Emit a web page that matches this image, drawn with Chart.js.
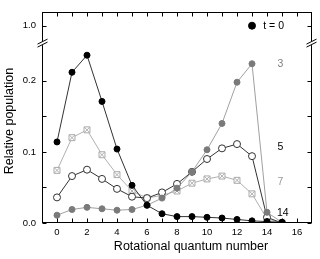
<!DOCTYPE html>
<html>
<head>
<meta charset="utf-8">
<script src="https://cdn.jsdelivr.net/npm/chart.js@4"></script>
<style>
html, body { margin: 0; padding: 0; background: #fff; }
#wrap { width: 320px; height: 259px; }
</style>
</head>
<body>
<div id="wrap"><canvas id="popChart" width="320" height="259"></canvas></div>
<script>
// data
const quantumNumbers = [0, 1, 2, 3, 4, 5, 6, 7, 8, 9, 10, 11, 12, 13, 14, 15];
const popT0 = [0.114, 0.212, 0.236, 0.171, 0.104, 0.053, 0.025, 0.013, 0.009, 0.009, 0.008, 0.007, 0.005, 0.003, 0.002, 0.001];
const popT3 = [0.011, 0.019, 0.022, 0.020, 0.018, 0.019, 0.025, 0.035, 0.049, 0.072, 0.103, 0.140, 0.198, 0.224, 0.015, 0.001];
const popT5 = [0.036, 0.066, 0.075, 0.062, 0.048, 0.037, 0.035, 0.043, 0.055, 0.072, 0.090, 0.105, 0.111, 0.094, 0.008, 0.000];
const popT7 = [0.074, 0.120, 0.131, 0.096, 0.068, 0.045, 0.035, 0.039, 0.045, 0.056, 0.062, 0.066, 0.060, 0.041, 0.006, 0.000];

const xTickLabels = [0, 2, 4, 6, 8, 10, 12, 14, 16];
const yTickValues = [0.0, 0.1, 0.2, 1.0];
const yMinorValues = [0.05, 0.15];

// text labels next to the curves
const seriesLabels = ['t = 0', '3', '5', '7', '14'];
const labelJ = [13.75, 14.9, 14.9, 14.9, 15.05];
const labelValues = [1.0, 0.223, 0.107, 0.058, 0.0136];
const labelColors = ['#000', '#808080', '#000', '#999', '#000'];
const legendPoint = { j: 13, value: 1.0 };

// broken axis: 1.0 is drawn just above the break
const BREAK_VALUE = 0.253;
const ONE_AT = 0.2775;
function toAxis(v) {
    return v > 0.5 ? ONE_AT + (v - 1.0) : v;
}

function pts(arr) {
    return arr.map((v, i) => ({ x: quantumNumbers[i], y: toAxis(v) }));
}

const font = 'Arial, "Liberation Sans", sans-serif';

const decorPlugin = {
    id: 'decor',
    afterDraw(chart) {
        const c = chart.ctx;
        const a = chart.chartArea;
        const xs = chart.scales.x;
        const ys = chart.scales.y;
        c.save();
        c.strokeStyle = '#000';
        c.lineWidth = 1;
        // frame
        c.strokeRect(Math.round(a.left) + 0.5, Math.round(a.top) + 0.5,
            Math.round(a.right - a.left) - 1, Math.round(a.bottom - a.top) - 1);
        const L = Math.round(a.left) + 0.5, R = Math.round(a.right) - 0.5;
        const T = Math.round(a.top) + 0.5, B = Math.round(a.bottom) - 0.5;
        c.beginPath();
        // x ticks, every unit, pointing in
        for (let j = 0; j <= 16; j++) {
            const px = Math.round(xs.getPixelForValue(j)) + 0.5;
            c.moveTo(px, B); c.lineTo(px, B - 4);
            c.moveTo(px, T); c.lineTo(px, T + 4);
        }
        // y ticks
        yTickValues.concat(yMinorValues).forEach(v => {
            const py = Math.round(ys.getPixelForValue(toAxis(v))) + 0.5;
            c.moveTo(L, py); c.lineTo(L + 4, py);
            c.moveTo(R, py); c.lineTo(R - 4, py);
        });
        c.stroke();

        // axis break marks
        const by = ys.getPixelForValue(BREAK_VALUE);
        [L, R].forEach(ax => {
            c.fillStyle = '#fff';
            c.fillRect(ax - 2, by - 2, 4, 4);
            c.beginPath();
            c.moveTo(ax - 5, by + 1); c.lineTo(ax + 5, by - 4);
            c.moveTo(ax - 5, by + 4); c.lineTo(ax + 5, by - 1);
            c.stroke();
        });

        // curve labels
        c.font = '10.5px ' + font;
        c.textBaseline = 'middle';
        seriesLabels.forEach((t, i) => {
            c.fillStyle = labelColors[i];
            c.textAlign = i === 0 ? 'left' : 'center';
            c.fillText(t, xs.getPixelForValue(labelJ[i]), ys.getPixelForValue(toAxis(labelValues[i])));
        });

        // axis titles
        c.fillStyle = '#000';
        c.font = '12.5px ' + font;
        c.textAlign = 'center';
        c.textBaseline = 'middle';
        c.fillText('Rotational quantum number', 191, 247);
        c.translate(10, 121);
        c.rotate(-Math.PI / 2);
        c.fillText('Relative population', 0, 0);
        c.restore();
    }
};

const ctx = document.getElementById('popChart').getContext('2d');

const popChart = new Chart(ctx, {
    type: 'scatter',
    data: {
        datasets: [
            {
                label: 't = 0',
                data: pts(popT0),
                showLine: true,
                borderColor: '#333',
                borderWidth: 1,
                pointRadius: 3,
                pointBackgroundColor: '#000',
                pointBorderColor: '#000',
                pointBorderWidth: 1
            },
            {
                label: 'legend marker',
                data: [{ x: legendPoint.j, y: toAxis(legendPoint.value) }],
                showLine: false,
                pointRadius: 3.5,
                pointBackgroundColor: '#000',
                pointBorderColor: '#000'
            },
            {
                label: 't = 3',
                data: pts(popT3),
                showLine: true,
                borderColor: '#a0a0a0',
                borderWidth: 1,
                pointRadius: 3,
                pointBackgroundColor: '#7a7a7a',
                pointBorderColor: '#7a7a7a',
                pointBorderWidth: 1
            },
            {
                label: 't = 5',
                data: pts(popT5),
                showLine: true,
                borderColor: '#333',
                borderWidth: 1,
                pointRadius: 3.5,
                pointBackgroundColor: '#fff',
                pointBorderColor: '#333',
                pointBorderWidth: 1
            },
            {
                // the cross inside the t = 7 squares
                label: 't = 7 cross',
                data: pts(popT7),
                showLine: false,
                pointStyle: 'crossRot',
                pointRadius: 4.2,
                pointBorderColor: '#b0b0b0',
                pointBorderWidth: 1
            },
            {
                label: 't = 7',
                data: pts(popT7),
                showLine: true,
                borderColor: '#b0b0b0',
                borderWidth: 1,
                pointStyle: 'rect',
                pointRadius: 4.2,
                pointBackgroundColor: '#fff',
                pointBorderColor: '#aaaaaa',
                pointBorderWidth: 1
            }
        ]
    },
    options: {
        responsive: false,
        animation: false,
        events: [],
        layout: { padding: { left: 0, top: 4, right: 8, bottom: 0 } },
        plugins: { legend: { display: false }, tooltip: { enabled: false } },
        scales: {
            x: {
                type: 'linear',
                min: -1,
                max: 17,
                grid: { display: false, drawTicks: false },
                border: { display: false },
                afterBuildTicks: s => { s.ticks = xTickLabels.map(v => ({ value: v })); },
                afterFit: s => { s.height = 36; },
                ticks: {
                    padding: 4,
                    color: '#000',
                    font: { family: font, size: 9.5 },
                    callback: v => String(v)
                }
            },
            y: {
                type: 'linear',
                min: 0,
                max: 0.2972,
                grid: { display: false, drawTicks: false },
                border: { display: false },
                afterBuildTicks: s => { s.ticks = yTickValues.map(v => ({ value: toAxis(v) })); },
                afterFit: s => { s.width = 42; },
                ticks: {
                    padding: 6,
                    color: '#000',
                    font: { family: font, size: 9.5 },
                    callback: v => (v > BREAK_VALUE ? '1.0' : v.toFixed(1))
                }
            }
        }
    },
    plugins: [decorPlugin]
});
</script>
</body>
</html>
